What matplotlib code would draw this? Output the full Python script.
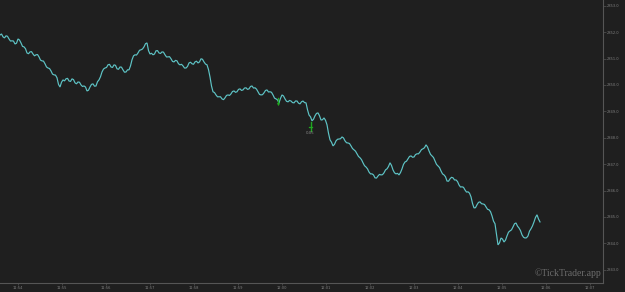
import matplotlib
matplotlib.use("Agg")
import matplotlib.pyplot as plt
from matplotlib.ticker import MultipleLocator, FuncFormatter
import numpy as np

# ---- data ----
start_seconds = 11 * 3600 + 53 * 60 + 35.5   # 11:53:35.5
sample_step = 60 * 3 / 44                    # seconds between main samples

prices = [
    2851.89, 2851.82, 2851.86, 2851.74, 2851.67, 2851.55, 2851.74, 2851.59, 2851.44, 2851.21,
    2851.25, 2851.17, 2851.14, 2851.06, 2850.91, 2850.80, 2850.64, 2850.53, 2850.38, 2850.27,
    2849.92, 2850.19, 2850.23, 2850.15, 2850.23, 2850.08, 2850.11, 2850.00, 2849.96, 2849.77,
    2849.92, 2850.04, 2849.96, 2850.19, 2850.49, 2850.64, 2850.76, 2850.68, 2850.76, 2850.61,
    2850.68, 2850.57, 2850.49, 2850.57, 2850.95, 2851.14, 2851.21, 2851.33, 2851.44, 2851.59,
    2851.17, 2851.14, 2851.29, 2851.21, 2851.25, 2851.14, 2851.06, 2850.99, 2850.87, 2850.91,
    2850.76, 2850.72, 2850.64, 2850.83, 2850.80, 2850.87, 2850.83, 2850.99, 2850.87, 2850.76,
    2850.30, 2849.74, 2849.62, 2849.55, 2849.47, 2849.51, 2849.62, 2849.66, 2849.77, 2849.74,
    2849.85, 2849.81, 2849.89, 2849.85, 2849.96, 2849.89, 2849.74, 2849.62, 2849.70, 2849.81,
    2849.74, 2849.62, 2849.47, 2849.32, 2849.62, 2849.47, 2849.36, 2849.39, 2849.32, 2849.39,
    2849.28, 2849.39, 2849.32, 2848.86, 2848.64, 2848.83, 2848.94, 2848.67, 2848.75, 2848.49,
    2847.92, 2847.69, 2847.88, 2847.95, 2848.03, 2847.88, 2847.80, 2847.69, 2847.54, 2847.39,
    2847.24, 2847.05, 2846.89, 2846.70, 2846.63, 2846.48, 2846.55, 2846.59, 2846.67, 2846.82,
    2847.05, 2846.78, 2846.63, 2846.59, 2846.82, 2847.08, 2847.20, 2847.31, 2847.27, 2847.39,
    2847.46, 2847.58, 2847.73, 2847.50, 2847.31, 2847.12, 2846.93, 2846.74, 2846.59, 2846.36,
    2846.44, 2846.48, 2846.40, 2846.21, 2846.14, 2846.02, 2845.95, 2845.76, 2845.34, 2845.46,
    2845.57, 2845.49, 2845.38, 2845.27, 2845.04, 2844.74, 2843.94, 2844.20, 2844.05, 2844.28,
    2844.47, 2844.62, 2844.77, 2844.58, 2844.32, 2844.20, 2844.28, 2844.55, 2844.81, 2845.08,
    2844.81,
]

# in-between ticks (one between each pair of main samples)
mid_prices = [
    2851.93, 2851.78, 2851.84, 2851.66, 2851.66, 2851.58, 2851.70, 2851.46, 2851.37, 2851.18,
    2851.26, 2851.10, 2851.15, 2850.94, 2850.90, 2850.68, 2850.62, 2850.41, 2850.37, 2850.02,
    2850.10, 2850.15, 2850.25, 2850.13, 2850.20, 2850.04, 2850.10, 2849.94, 2849.92, 2849.80,
    2850.02, 2849.95, 2850.12, 2850.31, 2850.60, 2850.66, 2850.78, 2850.66, 2850.74, 2850.59,
    2850.67, 2850.48, 2850.57, 2850.72, 2851.10, 2851.13, 2851.31, 2851.36, 2851.56, 2851.30,
    2851.20, 2851.17, 2851.30, 2851.19, 2851.24, 2851.06, 2851.07, 2850.89, 2850.93, 2850.80,
    2850.78, 2850.64, 2850.70, 2850.86, 2850.78, 2850.90, 2850.87, 2850.97, 2850.79, 2850.58,
    2849.96, 2849.71, 2849.55, 2849.55, 2849.44, 2849.60, 2849.60, 2849.75, 2849.72, 2849.83,
    2849.79, 2849.88, 2849.83, 2849.94, 2849.88, 2849.84, 2849.64, 2849.63, 2849.79, 2849.73,
    2849.72, 2849.50, 2849.43, 2849.49, 2849.58, 2849.38, 2849.41, 2849.33, 2849.39, 2849.31,
    2849.36, 2849.33, 2849.06, 2848.79, 2848.70, 2848.92, 2848.83, 2848.68, 2848.66, 2848.17,
    2847.83, 2847.75, 2847.94, 2847.96, 2847.99, 2847.81, 2847.78, 2847.59, 2847.49, 2847.29,
    2847.17, 2846.94, 2846.82, 2846.63, 2846.59, 2846.47, 2846.61, 2846.60, 2846.78, 2846.91,
    2846.95, 2846.67, 2846.65, 2846.68, 2846.99, 2847.11, 2847.29, 2847.26, 2847.36, 2847.39,
    2847.55, 2847.62, 2847.65, 2847.37, 2847.25, 2846.99, 2846.87, 2846.63, 2846.52, 2846.35,
    2846.50, 2846.40, 2846.34, 2846.13, 2846.12, 2845.94, 2845.90, 2845.51, 2845.35, 2845.55,
    2845.50, 2845.47, 2845.29, 2845.20, 2844.84, 2844.35, 2844.02, 2844.16, 2844.12, 2844.42,
    2844.51, 2844.74, 2844.65, 2844.48, 2844.23, 2844.21, 2844.46, 2844.66, 2844.98, 2844.92,
]

trade_sample = [92.5, 103.5]
trade_price = [2849.39, 2848.45]
trade_label = ["", "0.05"]

y_ticks = [2853.0, 2852.0, 2851.0, 2850.0, 2849.0, 2848.0, 2847.0, 2846.0, 2845.0, 2844.0, 2843.0]

# ---- style ----
BG = "#1f1f1f"
LINE = "#5ec4c6"
AXIS = "#555555"
TXT = "#808080"

fig = plt.figure(figsize=(6.25, 2.92), dpi=100, facecolor=BG)
ax = fig.add_axes([0.0, 1 - 282.7 / 292, 603 / 625, 282.7 / 292])
ax.set_facecolor(BG)

series = []
for i, p in enumerate(prices):
    series.append(p)
    if i < len(mid_prices):
        series.append(mid_prices[i])
t = start_seconds + np.arange(len(series)) * (sample_step / 2)
ax.plot(t, series, color=LINE, lw=0.85, solid_joinstyle="miter")

# trade markers
GREEN = "#1fa81f"
tt = [start_seconds + s * sample_step for s in trade_sample]
ax.plot([tt[0], tt[0]], [trade_price[0] + 0.1, trade_price[0] - 0.13], color=GREEN, lw=1.0)
ax.plot([tt[0]], [trade_price[0] - 0.12], marker="v", ms=2.2, color=GREEN, mew=0)
ax.plot([tt[1], tt[1]], [trade_price[1] + 0.13, trade_price[1] - 0.2], color=GREEN, lw=1.0)
ax.plot([tt[1] - 2.5, tt[1] + 2.5], [trade_price[1] - 0.05, trade_price[1] - 0.05], color=GREEN, lw=0.9)
ax.text(tt[1], trade_price[1] - 0.28, trade_label[1], color="#8a8a8a", fontsize=2.8,
        ha="center", va="center")

# axes limits
ax.set_xlim(start_seconds, start_seconds + 603 * sample_step / 3)
ax.set_ylim(2853.0 - (282.7 - 5.7) / 26.4, 2853.0 + 5.7 / 26.4)

for s in ["top", "left"]:
    ax.spines[s].set_visible(False)
for s in ["right", "bottom"]:
    ax.spines[s].set_color(AXIS)
    ax.spines[s].set_linewidth(0.8)

ax.yaxis.tick_right()
ax.set_yticks(y_ticks)
ax.yaxis.set_major_formatter(FuncFormatter(lambda v, p: f"{v:.1f}"))
ax.xaxis.set_major_locator(MultipleLocator(60))
ax.xaxis.set_major_formatter(FuncFormatter(
    lambda v, p: f"{int(v // 3600):02d}:{int(v % 3600 // 60):02d}"))

ax.tick_params(axis="y", colors=AXIS, labelcolor=TXT, labelsize=2.6, length=1.8, width=0.5, pad=1.2)
ax.tick_params(axis="x", colors=AXIS, labelcolor=TXT, labelsize=2.6, length=1.5, width=0.5, pad=1.0)

fig.text(601 / 625, 1 - 273 / 292, "\u00a9TickTrader.app", color="#6c6c6c",
         fontsize=7, family="Liberation Serif", ha="right", va="center")

fig.savefig("out.png", dpi=100, facecolor=BG)
